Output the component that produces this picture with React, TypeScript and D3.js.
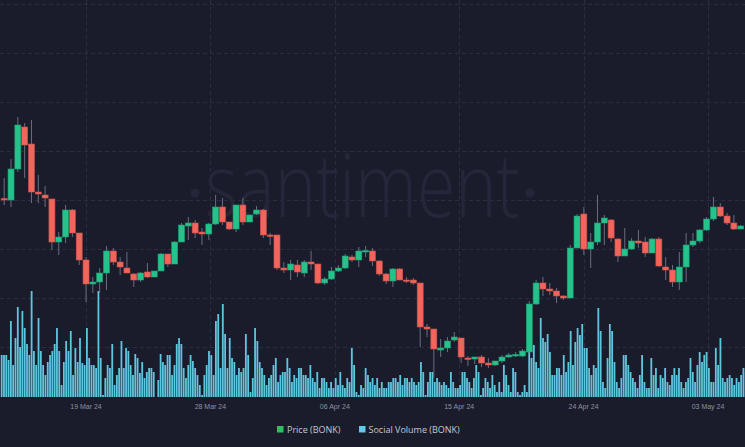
import React from "react";
import * as d3 from "d3";

const WIDTH = 745;
const HEIGHT = 447;

// 12h candles, first one at 13 Mar 2024 00:00 UTC (prices in 1e-6 USD)
const CANDLE_START = Date.UTC(2024, 2, 13, 0);
const CANDLE_STEP_H = 12;

const candleOpen = [
  36.15, 36.0, 39.1, 43.3, 41.6, 36.8, 36.5, 36.1, 31.8, 32.3, 35.0, 32.7,
  30.0, 27.6, 27.8, 28.7, 30.9, 29.8, 29.2, 28.6, 28.0, 28.8,
  28.3, 28.9, 30.6, 29.6, 31.8, 33.4, 33.7, 32.8, 32.6, 33.6,
  35.3, 33.8, 33.1, 35.5, 33.8, 34.6, 35.0, 32.5, 32.5, 29.2,
  29.0, 29.5, 28.7, 29.8, 29.6, 27.7, 28.1, 28.9, 29.2, 30.3,
  30.0, 30.9, 30.9, 29.9, 28.6, 27.9, 29.1, 28.0, 28.0, 27.7,
  23.3, 23.1, 21.0, 21.2, 22.0, 22.2, 20.2, 20.1, 20.3, 19.7,
  19.5, 19.9, 20.3, 20.5, 20.4, 20.8, 25.6, 27.7, 27.1, 26.9,
  26.4, 26.2, 31.2, 34.6, 31.1, 31.8, 33.7, 34.0, 32.1, 30.4,
  31.1, 31.9, 31.8, 30.7, 32.1, 29.3, 29.0, 27.8, 29.3, 31.5,
  31.9, 33.0, 34.1, 35.3, 34.4, 33.7, 33.1,
];
const candleHigh = [
  38.2, 40.1, 44.3, 43.7, 44.0, 38.5, 37.4, 36.1, 32.8, 35.5, 35.1, 32.7,
  30.3, 28.3, 29.2, 31.4, 31.2, 30.3, 30.8, 28.7, 28.8, 29.7,
  28.9, 30.7, 30.6, 31.9, 33.7, 34.3, 34.0, 33.2, 33.7, 36.5,
  36.2, 33.8, 35.5, 36.2, 34.5, 35.4, 35.1, 32.7, 32.5, 29.8,
  30.0, 30.0, 30.0, 30.9, 29.6, 28.3, 29.3, 29.5, 30.6, 30.5,
  31.3, 31.4, 31.2, 30.0, 28.7, 29.2, 29.2, 28.3, 28.2, 27.7,
  23.6, 23.1, 22.1, 22.3, 22.8, 22.2, 20.4, 20.3, 20.5, 20.2,
  19.9, 20.5, 20.7, 20.8, 21.1, 25.9, 28.0, 28.3, 27.7, 27.2,
  26.5, 31.5, 34.6, 35.3, 32.7, 36.5, 34.5, 34.1, 32.2, 33.2,
  32.2, 33.0, 32.3, 32.2, 32.3, 30.3, 29.5, 30.8, 32.7, 32.7,
  33.1, 34.3, 36.3, 35.7, 34.7, 34.5, 33.5,
];
const candleLow = [
  35.5, 35.3, 38.8, 38.2, 35.7, 35.7, 35.3, 31.0, 30.5, 31.7, 32.3, 29.5,
  25.8, 26.7, 26.7, 27.0, 29.5, 28.5, 28.7, 27.3, 27.8, 28.2,
  28.3, 28.9, 29.3, 29.6, 31.8, 32.0, 32.2, 31.5, 32.0, 33.5,
  33.5, 33.0, 32.8, 33.5, 33.8, 34.5, 32.2, 31.5, 29.0, 28.7,
  28.0, 28.3, 28.3, 29.0, 27.6, 27.5, 28.0, 28.8, 29.1, 29.8,
  29.3, 30.3, 29.4, 28.4, 27.6, 27.3, 28.0, 27.7, 27.5, 21.3,
  22.3, 18.2, 20.3, 20.8, 21.8, 19.7, 19.4, 19.6, 19.3, 19.2,
  19.4, 19.7, 20.2, 20.3, 20.3, 20.8, 25.5, 26.4, 26.5, 25.7,
  26.0, 26.2, 31.2, 30.5, 29.2, 31.5, 31.5, 31.8, 29.8, 30.4,
  31.0, 31.2, 30.3, 30.7, 29.3, 28.0, 27.3, 27.0, 27.8, 31.3,
  31.7, 32.9, 33.9, 34.3, 33.5, 33.0, 33.1,
];
const candleClose = [
  36.05, 39.1, 43.5, 41.5, 36.8, 36.6, 36.2, 31.8, 32.3, 35.0, 32.7, 30.0,
  27.6, 27.8, 28.7, 30.9, 29.8, 29.3, 28.7, 28.0, 28.7, 28.3,
  28.9, 30.6, 29.6, 31.8, 33.5, 33.7, 32.7, 32.6, 33.6, 35.3,
  33.8, 33.1, 35.5, 33.8, 34.5, 35.0, 32.5, 32.45, 29.2, 29.0,
  29.6, 28.8, 29.8, 29.6, 27.7, 28.1, 28.9, 29.2, 30.4, 30.0,
  30.9, 30.95, 29.9, 28.6, 27.9, 29.1, 28.0, 27.95, 27.7, 23.3,
  23.1, 21.1, 21.2, 21.9, 22.3, 20.3, 20.1, 20.3, 19.7, 19.5,
  19.9, 20.3, 20.5, 20.55, 20.9, 25.6, 27.7, 27.1, 26.9, 26.4,
  26.2, 31.2, 34.4, 31.1, 31.8, 33.7, 34.2, 32.2, 30.4, 31.1,
  31.9, 31.7, 30.7, 32.1, 29.4, 29.0, 27.8, 29.3, 31.5, 31.9,
  33.0, 34.1, 35.3, 34.4, 33.7, 33.1, 33.4,
];

// 4h social volume bars, first one at 12 Mar 2024 20:00 UTC
const VOLUME_START = Date.UTC(2024, 2, 12, 20);
const VOLUME_STEP_H = 4;
const socialVolume = [
  42, 42, 42, 37, 76, 32, 59, 90, 50, 86,
  69, 53, 42, 106, 46, 32, 79, 46, 32, 22,
  35, 42, 46, 53, 69, 46, 12, 35, 56, 46,
  66, 22, 49, 35, 59, 34, 32, 69, 39, 32,
  32, 29, 106, 39, 2, 19, 32, 29, 53, 12,
  22, 29, 56, 29, 49, 46, 32, 22, 43, 39,
  24, 35, 19, 25, 29, 29, 25, 0, 17, 43,
  35, 32, 42, 42, 22, 32, 53, 59, 53, 29,
  19, 32, 42, 36, 29, 22, 12, 2, 22, 32,
  46, 42, 22, 76, 83, 29, 93, 63, 29, 59,
  39, 35, 22, 29, 25, 29, 63, 42, 5,
  19, 69, 56, 35, 29, 22, 12, 19, 22, 32,
  39, 15, 22, 25, 25, 39, 29, 15, 22, 19,
  29, 29, 22, 22, 19, 32, 19, 15, 25, 9,
  19, 19, 15, 9, 15, 9, 19, 12, 25, 12,
  9, 19, 15, 49, 32, 5, 2, 12, 9, 29,
  22, 15, 19, 12, 19, 9, 15, 9, 9, 15,
  15, 19, 19, 15, 22, 12, 19, 19, 15, 19,
  15, 12, 15, 35, 25, 2, 15, 25, 25, 15,
  19, 15, 12, 15, 12, 9, 25, 15, 9, 9,
  12, 25, 25, 19, 15, 9, 19, 32, 25, 2,
  9, 19, 15, 9, 22, 12, 5, 15,
  5, 32, 22, 12, 5, 29, 25, 5, 2, 5,
  12, 5, 45, 39, 52, 35, 29, 79, 59, 55,
  63, 45, 22, 22, 29, 29, 22, 42, 25, 35,
  66, 32, 55, 69, 62, 73, 49, 49, 29, 22,
  32, 29, 89, 66, 15, 9, 39, 73, 66, 35,
  15, 9, 19, 42, 42, 32, 25, 19, 15, 9,
  22, 42, 15, 9, 9, 39, 22, 29, 9, 22,
  19, 29, 15, 12, 22, 29, 22, 29, 15, 9,
  15, 19, 39, 25, 15, 32, 45, 35, 42, 45,
  29, 15, 15, 49, 32, 59, 19, 15, 19, 22,
  19, 12, 19, 15, 22, 29, 25,
];

const tickDates = [
  Date.UTC(2024, 2, 19),
  Date.UTC(2024, 2, 28),
  Date.UTC(2024, 3, 6),
  Date.UTC(2024, 3, 15),
  Date.UTC(2024, 3, 24),
  Date.UTC(2024, 4, 3),
];
const tickLabels = ["19 Mar 24", "28 Mar 24", "06 Apr 24", "15 Apr 24", "24 Apr 24", "03 May 24"];
const legendLabels = ["Price (BONK)", "Social Volume (BONK)"];

const BG = "#1b1c2b";
const GRID = "#2b2e41";
const UP = "#26c28b";
const DOWN = "#f2655d";
const WICK = "#686d82";
const VOL = "#5ec6df";

export default function App() {
  const H = 3600 * 1000;
  const xTime = d3
    .scaleUtc()
    .domain([new Date(tickDates[0]), new Date(tickDates[tickDates.length - 1])])
    .range([86, 708]);
  const candleDates = candleOpen.map((_, i) => new Date(CANDLE_START + i * CANDLE_STEP_H * H));
  const xCandle = d3
    .scaleUtc()
    .domain([candleDates[0], candleDates[candleDates.length - 1]])
    .range([4.2, 740.7]);
  const yPrice = d3.scaleLinear().domain([16.3, 55.6]).range([397, 4]);
  const yVol = d3.scaleLinear().domain([0, 106]).range([397, 291]);

  const gridY = d3.range(4, 390, 49);
  const bodyW = 6;

  return (
    <svg
      width={WIDTH}
      height={HEIGHT}
      style={{ position: "absolute", left: 0, top: 0, display: "block" }}
    >
      <rect x={0} y={0} width={WIDTH} height={HEIGHT} fill={BG} />
      {gridY.map((y) => (
        <line key={"gy" + y} x1={0} x2={WIDTH} y1={y + 0.5} y2={y + 0.5} stroke={GRID} strokeDasharray="4,3" />
      ))}
      {tickDates.map((t) => (
        <line
          key={"gx" + t}
          x1={Math.round(xTime(new Date(t))) + 0.5}
          x2={Math.round(xTime(new Date(t))) + 0.5}
          y1={0}
          y2={397}
          stroke={GRID}
          strokeDasharray="4,3"
        />
      ))}
      {/* watermark */}
      <g fill="#24273a">
        <circle cx={195} cy={193} r={4.5} />
        <text
          x={205}
          y={217}
          fontFamily="'Open Sans', sans-serif"
          fontWeight={300}
          fontSize={88}
          textLength={315}
          lengthAdjust="spacingAndGlyphs"
        >
          santiment
        </text>
        <circle cx={530} cy={193} r={4.5} />
      </g>
      {/* social volume */}
      {socialVolume.map((v, i) => {
        const t0 = new Date(VOLUME_START + i * VOLUME_STEP_H * H);
        const t1 = new Date(VOLUME_START + (i + 1) * VOLUME_STEP_H * H);
        const x0 = xTime(t0);
        const w = xTime(t1) - x0;
        return (
          <rect key={"v" + i} x={x0} y={yVol(v)} width={w - 0.5} height={yVol(0) - yVol(v)} fill={VOL} />
        );
      })}
      {/* candles */}
      {candleOpen.map((o, i) => {
        const c = candleClose[i];
        const cx = xCandle(candleDates[i]);
        const up = c >= o;
        const top = yPrice(Math.max(o, c));
        const bot = yPrice(Math.min(o, c));
        const h = Math.max(bot - top, 1.5);
        return (
          <g key={"c" + i}>
            <line
              x1={cx}
              x2={cx}
              y1={yPrice(candleHigh[i])}
              y2={yPrice(candleLow[i])}
              stroke={WICK}
              strokeWidth={1}
            />
            <rect
              x={cx - bodyW / 2}
              y={top}
              width={bodyW}
              height={h}
              fill={up ? UP : DOWN}
              stroke={up ? "#1d9e70" : "#c95048"}
              strokeWidth={0.6}
            />
          </g>
        );
      })}
      {/* x axis labels */}
      {tickDates.map((t, i) => (
        <text
          key={"tl" + t}
          x={xTime(new Date(t))}
          y={409}
          textAnchor="middle"
          fontFamily="'Liberation Sans', Arial, sans-serif"
          fontSize={7}
          fill="#8c91a4"
        >
          {tickLabels[i]}
        </text>
      ))}
      {/* legend */}
      <g fontFamily="'Open Sans', sans-serif" fontSize={9} fill="#c3c7d4">
        <rect x={277} y={426} width={6.5} height={6.5} fill="#27c35e" />
        <text x={287} y={432.5}>
          {legendLabels[0]}
        </text>
        <rect x={359} y={426} width={6.5} height={6.5} fill="#5dcbea" />
        <text x={368.5} y={432.5}>
          {legendLabels[1]}
        </text>
      </g>
    </svg>
  );
}
